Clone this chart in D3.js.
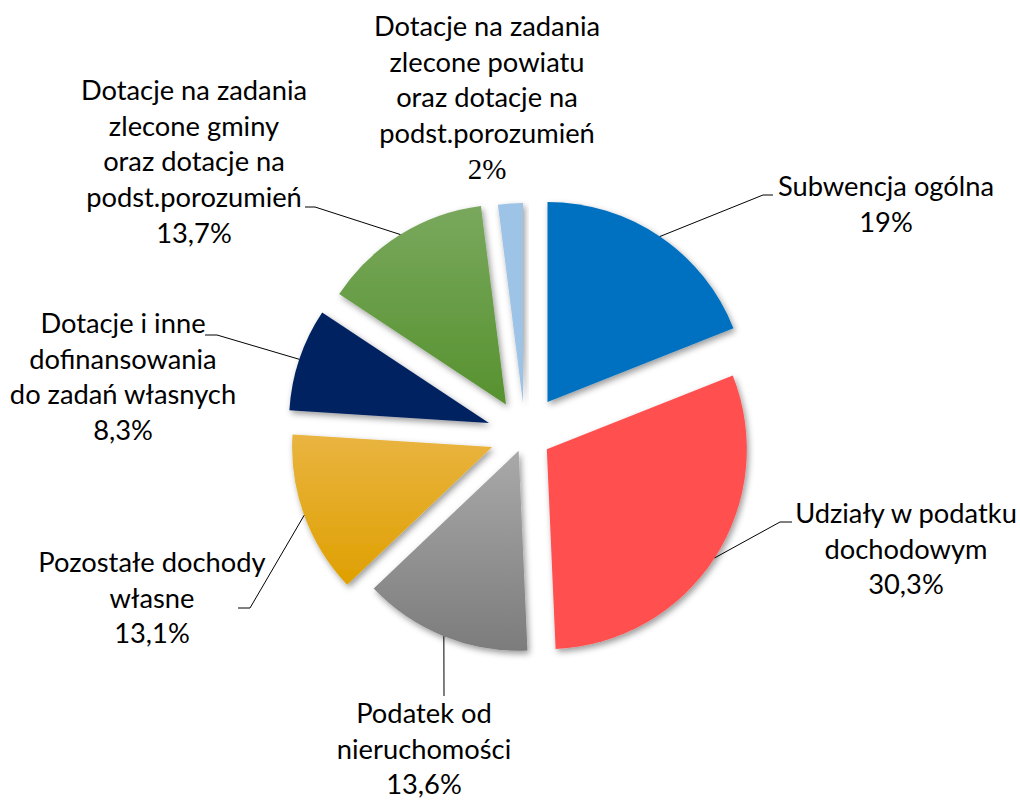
<!DOCTYPE html>
<html lang="pl">

<head>
    <meta charset="UTF-8">
    <script src="https://d3js.org/d3.v7.min.js"></script>
    <style>
        body { margin: 0; background: #fff; }
        text { font-family: Lato, 'Open Sans', sans-serif; fill: #000; }
    </style>
    <title>Struktura dochodów</title>
</head>

<body>
    <div class="canvas"></div>
    <script>
        // dane
        const categories = [
            ['Subwencja ogólna'],
            ['Udziały w podatku', 'dochodowym'],
            ['Podatek od', 'nieruchomości'],
            ['Pozostałe dochody', 'własne'],
            ['Dotacje i inne', 'dofinansowania', 'do zadań własnych'],
            ['Dotacje na zadania', 'zlecone gminy', 'oraz dotacje na', 'podst.porozumień'],
            ['Dotacje na zadania', 'zlecone powiatu', 'oraz dotacje na', 'podst.porozumień']
        ]
        const values = [19, 30.3, 13.6, 13.1, 8.3, 13.7, 2]
        const valueLabels = ['19%', '30,3%', '13,6%', '13,1%', '8,3%', '13,7%', '2%']

        // wygląd
        const colors = [
            ['#0070c0', '#0070c0'],
            ['#ff5050', '#ff5050'],
            ['#a9a9a9', '#7c7c7c'],
            ['#e9b441', '#dfa000'],
            ['#002060', '#002060'],
            ['#79a85d', '#57922f'],
            ['#9dc3e6', '#9dc3e6']
        ]
        const explode = [40, 26, 17, 35, 38, 36, 32]
        // [środek x etykiety, pierwsza linia bazowa, kolano linii, koniec linii]
        const labelLayout = [
            { x: 886, y: 196, elbow: [763, 195], end: [773, 195] },
            { x: 906, y: 523, elbow: [780, 522], end: [792, 522] },
            { x: 424, y: 723, elbow: [444, 696], end: [444, 696] },
            { x: 152, y: 572, elbow: [250, 608], end: [238, 608] },
            { x: 123, y: 333, elbow: [217, 335], end: [205, 335] },
            { x: 194, y: 100, elbow: [315, 207], end: [305, 207] },
            { x: 487, y: 36, elbow: null, end: null }
        ]
        const serifValue = [false, false, false, false, false, false, true]

        const areaWidth = 1020
        const areaHeight = 801
        const [cx, cy] = [525, 435]
        const radius = 200
        const fontSize = 27.3
        const lineHeight = 35.7

        const svg = d3.select('.canvas')
            .append('svg')
            .attr('width', areaWidth)
            .attr('height', areaHeight)

        const defs = svg.append('defs')
        const shadow = defs.append('filter')
            .attr('id', 'shadow')
            .attr('x', '-20%').attr('y', '-20%')
            .attr('width', '140%').attr('height', '140%')
        shadow.append('feDropShadow')
            .attr('dx', 2).attr('dy', 3)
            .attr('stdDeviation', 3)
            .attr('flood-color', '#000')
            .attr('flood-opacity', 0.4)

        colors.forEach((c, i) => {
            const grad = defs.append('linearGradient')
                .attr('id', 'grad' + i)
                .attr('x1', 0).attr('y1', 0)
                .attr('x2', 0).attr('y2', 1)
            grad.append('stop').attr('offset', '0%').attr('stop-color', c[0])
            grad.append('stop').attr('offset', '100%').attr('stop-color', c[1])
        })

        const pie = d3.pie().sort(null).value(d => d)
        const arcs = pie(values)

        const arc = d3.arc().innerRadius(0).outerRadius(radius)
        const edgeArc = d3.arc().innerRadius(radius).outerRadius(radius)

        const offset = (d, i) => {
            const mid = (d.startAngle + d.endAngle) / 2
            return [explode[i] * Math.sin(mid), -explode[i] * Math.cos(mid)]
        }

        const graph = svg.append('g')
            .attr('transform', `translate(${cx},${cy})`)

        graph.selectAll('path.slice')
            .data(arcs)
            .enter()
            .append('path')
            .attr('class', 'slice')
            .attr('d', arc)
            .attr('fill', (d, i) => `url(#grad${i})`)
            .attr('filter', 'url(#shadow)')
            .attr('transform', (d, i) => `translate(${offset(d, i)})`)

        // linie odniesienia
        svg.selectAll('polyline.leader')
            .data(arcs.filter((d, i) => labelLayout[i].elbow))
            .enter()
            .append('polyline')
            .attr('class', 'leader')
            .attr('fill', 'none')
            .attr('stroke', '#000')
            .attr('stroke-width', 1)
            .attr('points', d => {
                const i = d.index
                const [ox, oy] = offset(d, i)
                const [ex, ey] = edgeArc.centroid(d)
                const p0 = [cx + ex + ox, cy + ey + oy]
                return [p0, labelLayout[i].elbow, labelLayout[i].end].map(p => p.join(',')).join(' ')
            })

        // etykiety
        const labels = svg.selectAll('text.label')
            .data(arcs)
            .enter()
            .append('text')
            .attr('class', 'label')
            .attr('text-anchor', 'middle')
            .style('font-size', fontSize + 'px')

        labels.each(function (d, i) {
            const t = d3.select(this)
            const L = labelLayout[i]
            categories[i].forEach((line, k) => {
                t.append('tspan')
                    .attr('x', L.x)
                    .attr('y', L.y + k * lineHeight)
                    .text(line)
            })
            t.append('tspan')
                .attr('x', L.x)
                .attr('y', L.y + categories[i].length * lineHeight)
                .style('font-family', serifValue[i] ? "'Liberation Serif', 'Times New Roman', serif" : null)
                .style('font-size', serifValue[i] ? '29px' : null)
                .text(valueLabels[i])
        })
    </script>

</body>

</html>
